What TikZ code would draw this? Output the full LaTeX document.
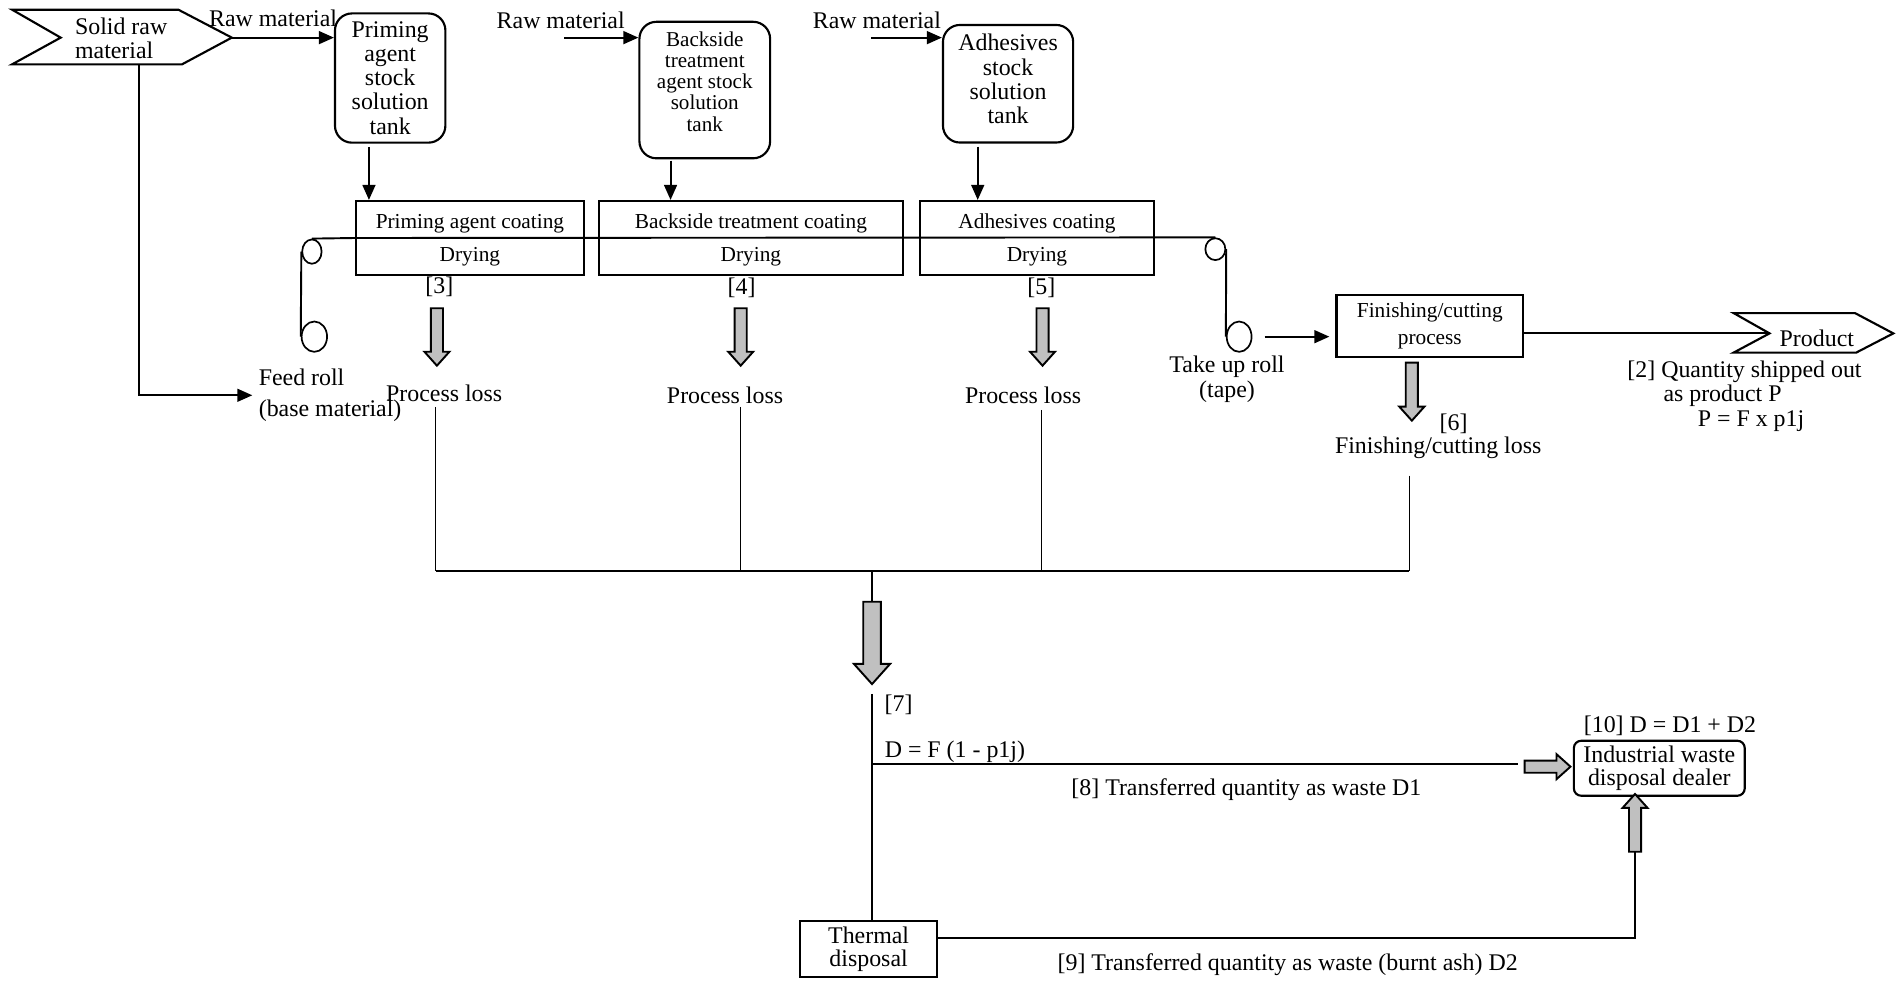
\documentclass[tikz,border=0pt]{standalone}
\usepackage{fontspec}
\setmainfont{Liberation Serif}
\usetikzlibrary{positioning,arrows.meta,shapes.geometric}

\definecolor{lossgray}{RGB}{192,192,192}

\tikzset{
  txt/.style={inner sep=0pt, font=\fontsize{11.2}{11.4}\selectfont},
  tank/.style={draw, line width=1pt, rounded corners=0.28cm, align=center, inner sep=0pt, font=\fontsize{11.2}{11.3}\selectfont},
  process/.style={draw, line width=1pt, align=center, inner sep=0pt, font=\fontsize{10}{15.4}\selectfont},
  roll/.style={draw, ellipse, line width=0.8pt, inner sep=0pt},
  flow/.style={line width=0.9pt, -{Triangle[length=7pt,width=6pt]}},
  pipe/.style={line width=0.9pt},
  thinpipe/.style={line width=0.5pt},
  buspipe/.style={line width=1.2pt},
  pics/lossarrow/.style={code={
    \draw[line width=0.9pt, fill=lossgray] (-5,0) -- (-5,#1-11.5) -- (-10.3,#1-11.5) -- (0,#1) -- (10.3,#1-11.5) -- (5,#1-11.5) -- (5,0) -- cycle;
  }}
}

\begin{document}
\begin{tikzpicture}[x=0.02cm,y=-0.02cm]
\useasboundingbox (0,0) rectangle (1568,808);

% solid raw material
\draw[line width=1pt] (10,8) -- (147,8) -- (191,31) -- (150,53) -- (10,53) -- (50,31) -- cycle;
\node[txt, anchor=west, align=left] (solid) at (61.5,31.5) {Solid raw\\material};
\coordinate (solidtip) at (191,31);
\coordinate (solidfoot) at (114.5,53);

% stock solution tanks
\node[tank, minimum width=1.82cm, minimum height=2.13cm] (ptank) at (321.5,64.3) {Priming\\agent\\stock\\solution\\tank};
\node[tank, minimum width=2.154cm, minimum height=2.25cm, text depth=8pt, font=\fontsize{9.9}{9.9}\selectfont] (btank) at (580.7,74.2) {Backside\\treatment\\agent stock\\solution\\tank};
\node[tank, minimum width=2.146cm, minimum height=1.938cm, text depth=4.6pt] (atank) at (830.6,69) {Adhesives\\stock\\solution\\tank};

\node[txt] (raw1) at (225,15) {Raw material};
\draw[flow] (solidtip) -- (solidtip -| ptank.west);
\coordinate (rawin2) at (465,31);
\node[txt] (raw2) at (462,17) {Raw material};
\draw[flow] (rawin2) -- (rawin2 -| btank.west);
\coordinate (rawin3) at (718,31);
\node[txt] (raw3) at (722.5,17) {Raw material};
\draw[flow] (rawin3) -- (rawin3 -| atank.west);

% coating and drying
\node[process, minimum width=3.754cm, minimum height=1.22cm, text depth=-1.2pt] (pcoat) at (387.2,196.1) {Priming agent coating\\Drying};
\node[process, minimum width=5.004cm, minimum height=1.22cm, text depth=-1.2pt] (bcoat) at (618.7,196.1) {Backside treatment coating\\Drying};
\node[process, minimum width=3.862cm, minimum height=1.22cm, text depth=-1.2pt] (acoat) at (854.4,196.1) {Adhesives coating\\Drying};

\draw[flow, shorten <=0.05cm] ([xshift=-0.35cm]ptank.south) -- ([xshift=-0.35cm]ptank.south |- pcoat.north);
\draw[flow, shorten <=0.02cm] ([xshift=-0.564cm]btank.south) -- ([xshift=-0.564cm]btank.south |- bcoat.north);
\draw[flow, shorten <=0.05cm] ([xshift=-0.5cm]atank.south) -- ([xshift=-0.5cm]atank.south |- acoat.north);

% rolls and web
\node[roll, minimum width=0.32cm, minimum height=0.4cm] (feedtop) at (257,207.3) {};
\node[roll, minimum width=0.42cm, minimum height=0.5cm] (feedbot) at (259,277.4) {};
\node[roll, minimum width=0.33cm, minimum height=0.36cm] (takeuptop) at (1001.4,205.3) {};
\node[roll, minimum width=0.41cm, minimum height=0.5cm] (takeupbot) at (1021,277.4) {};
\draw[pipe] (feedbot.west) -- (feedtop.west);
\draw[pipe] (feedtop.north) -- (pcoat.west) -- (takeuptop.north);
\draw[pipe] (takeuptop.east) -- (takeupbot.west);

\node[txt, anchor=west, align=left, font=\fontsize{11.2}{14.4}\selectfont] (feedlbl) at (212.9,325.7) {Feed roll\\(base material)};
\draw[flow, shorten >=0.1cm] (solidfoot) |- (feedlbl.west);
\node[txt, align=center, font=\fontsize{11.2}{11.7}\selectfont] (takeuplbl) at (1011,312.4) {Take up roll\\(tape)};

% finishing and product
\node[process, minimum width=3.076cm, minimum height=1.02cm, font=\fontsize{10}{12.5}\selectfont] (finish) at (1178.1,268.5) {Finishing/cutting\\process};
\draw[flow, shorten <=0.2cm, shorten >=0.1cm] (takeupbot.east) -- (takeupbot.east -| finish.west);
\coordinate (prodnotch) at (1458,274.7);
\draw[line width=1pt] (1428.5,258) -- (1528.5,258) -- (1560,274.7) -- (1529.5,290.5) -- (1428.5,290.5) -- (prodnotch) -- cycle;
\node[txt] (product) at (1497,278.8) {Product};
\draw[pipe] (prodnotch -| finish.east) -- (prodnotch);
\node[txt, anchor=west, align=left, font=\fontsize{11.2}{11.5}\selectfont] (shipped) at (1340.6,326.2) {[2] Quantity shipped out\\\hspace*{0.594cm}as product P\\\hspace*{1.16cm}P = F x p1j};

% losses
\pic at (360,254) {lossarrow=47.3};
\pic at (610.3,254) {lossarrow=47.3};
\pic at (859,254) {lossarrow=47.3};
\pic at (1163.3,298.8) {lossarrow=47.8};
\node[txt] (n3) at (362,236) {[3]};
\node[txt] (n4) at (611,237) {[4]};
\node[txt] (n5) at (858,237) {[5]};
\node[txt] (loss1) at (366,324) {Process loss};
\node[txt] (loss2) at (597.4,325.5) {Process loss};
\node[txt] (loss3) at (843,325.5) {Process loss};
\node[txt] (n6) at (1197.7,348.8) {[6]};
\node[txt] (finloss) at (1185,368.6) {Finishing/cutting loss};

\coordinate (bus1) at (359,470.5);
\coordinate (bus2) at (610.3,470.5);
\coordinate (bus3) at (858.4,470.5);
\coordinate (bus4) at (1161.2,470.5);
\draw[thinpipe, shorten <=0.08cm] (bus1 |- loss1.south) -- (bus1);
\draw[thinpipe, shorten <=0.05cm] (bus2 |- loss2.south) -- (bus2);
\draw[thinpipe, shorten <=0.1cm] (bus3 |- loss3.south) -- (bus3);
\draw[thinpipe, shorten <=0.28cm] (bus4 |- finloss.south) -- (bus4);
\draw[buspipe] (bus1) -- (bus4);

\coordinate (busout) at (718.5,470.5);
\coordinate (bigtop) at (718.5,495.8);
\draw[thinpipe] (busout) -- (bigtop);
\pic[scale=1.45] at (bigtop) {lossarrow=46.8};

% waste
\coordinate (d7) at (718.4,571.8);
\coordinate (d8) at (718.4,629.8);
\node[txt] (n7) at (740.4,581) {[7]};
\node[draw, line width=1pt, align=center, inner sep=0pt, minimum width=2.26cm, minimum height=0.934cm, font=\fontsize{11.2}{10.5}\selectfont] (thermal) at (715.7,782) {Thermal\\disposal};
\draw[pipe] (d7) -- (d7 |- thermal.north);
\node[draw, line width=1pt, rounded corners=0.12cm, align=center, inner sep=0pt, minimum width=2.816cm, minimum height=0.906cm, font=\fontsize{11.2}{11.1}\selectfont] (dealer) at (1367.2,633) {Industrial waste\\disposal dealer};
\coordinate (dealerin) at (1250.4,629.8);
\draw[pipe] (d8) -- (dealerin);
\pic[rotate=90] at (1256.2,631.7) {lossarrow=37.8};
\node[txt] (n10) at (1376,598.2) {[10] D = D1 + D2};
\node[txt, anchor=west] (dformula) at (728.7,619.4) {D = F (1 - p1j)};
\node[txt] (n8) at (1027,650.4) {[8] Transferred quantity as waste D1};

\coordinate (ashturn) at (1347.2,773.2);
\coordinate (ashtop) at (1347.2,701.8);
\draw[pipe] (thermal.east |- ashturn) -- (ashturn) -- (ashtop);
\pic[rotate=180] at (ashtop) {lossarrow=47.6};
\node[txt] (n9) at (1061,795.2) {[9] Transferred quantity as waste (burnt ash) D2};
\end{tikzpicture}
\end{document}
